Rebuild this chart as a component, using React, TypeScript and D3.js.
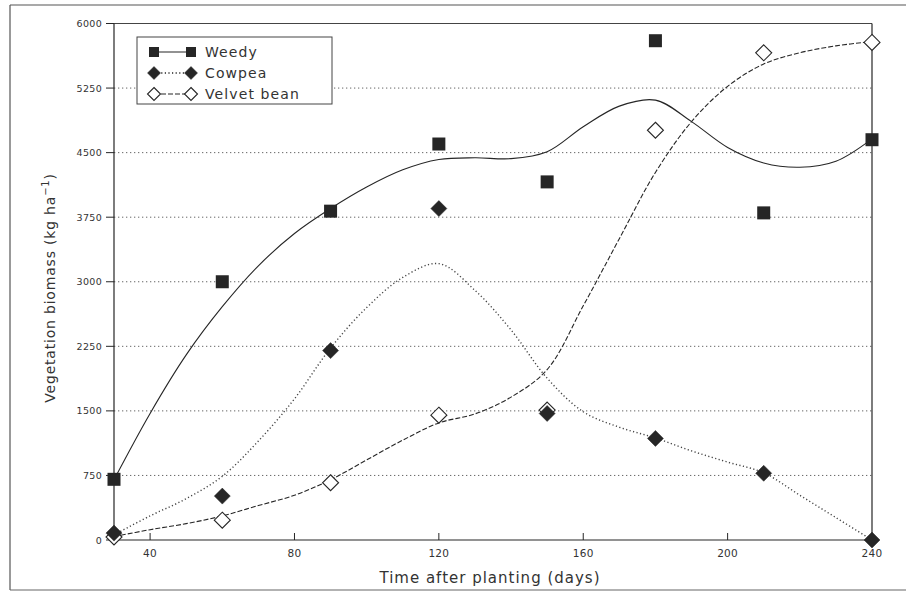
import React from "react";
import * as d3 from "d3";

// Observed data (days after planting)
const days = [30, 60, 90, 120, 150, 180, 210, 240];
const weedy = [705, 3000, 3820, 4600, 4160, 5800, 3800, 4650];
const cowpea = [80, 510, 2200, 3850, 1470, 1180, 775, 0];
const velvet = [35, 230, 665, 1450, 1510, 4760, 5660, 5780];

// Fitted curves
const fitDays = [30, 40, 50, 60, 70, 80, 90, 100, 110, 120, 130, 140, 150, 160, 170, 180, 190, 200, 210, 220, 230, 240];
const weedyFit = [700, 1470, 2150, 2710, 3185, 3560, 3850, 4100, 4300, 4420, 4440, 4430, 4510, 4800, 5040, 5110, 4860, 4560, 4380, 4330, 4400, 4660];
const cowpeaFit = [60, 280, 480, 740, 1150, 1640, 2230, 2700, 3050, 3210, 2900, 2440, 1880, 1490, 1310, 1185, 1035, 905, 780, 520, 260, 0];
const velvetFit = [40, 120, 190, 280, 400, 520, 700, 930, 1160, 1360, 1465, 1660, 1980, 2720, 3500, 4270, 4860, 5270, 5530, 5660, 5740, 5790];

const yTicks = [0, 750, 1500, 2250, 3000, 3750, 4500, 5250, 6000];
const xTicks = [40, 80, 120, 160, 200, 240];
const seriesNames = ["Weedy", "Cowpea", "Velvet bean"];

const W = 906;
const H = 595;
const FONT = "'DejaVu Sans', Verdana, sans-serif";
const INK = "#262626";

export default function App() {
  const x = d3.scaleLinear().domain([30, 240]).range([114, 872]);
  const y = d3.scaleLinear().domain([0, 6000]).range([540, 23.5]);

  const line = d3
    .line<number>()
    .x((_, i) => x(fitDays[i]))
    .y((d) => y(d))
    .curve(d3.curveCatmullRom.alpha(0.5));

  const sq = (cx: number, cy: number, s: number, key: string) => (
    <rect key={key} x={cx - s / 2} y={cy - s / 2} width={s} height={s} fill={INK} />
  );
  const dia = (cx: number, cy: number, r: number, filled: boolean, key: string) => (
    <path
      key={key}
      d={`M${cx},${cy - r}L${cx + r},${cy}L${cx},${cy + r}L${cx - r},${cy}Z`}
      fill={filled ? INK : "white"}
      stroke={INK}
      strokeWidth={filled ? 0.5 : 1.1}
    />
  );

  const x0 = x.range()[0];
  const x1 = x.range()[1];
  const yb = y(0);
  const yt = y(6000);

  const legendX = 137;
  const legendY = 37;
  const legendRows = [52, 73, 94];
  const styles = [
    { dash: undefined, w: 1.1 },
    { dash: "1.2 2.4", w: 1.4 },
    { dash: "5 2", w: 1.1 },
  ];

  return (
    <svg
      width={W}
      height={H}
      style={{ position: "absolute", left: 0, top: 0, background: "white" }}
      fontFamily={FONT}
    >
      {/* outer frame */}
      <line x1={10} y1={5} x2={W} y2={5} stroke="#555" strokeWidth={1.2} />
      <line x1={10} y1={5} x2={10} y2={590} stroke="#555" strokeWidth={1.2} />
      <line x1={10} y1={590} x2={W} y2={590} stroke="#666" strokeWidth={1.2} />

      {/* grid lines */}
      {yTicks
        .filter((t) => t > 0 && t < 6000)
        .map((t) => (
          <line
            key={"g" + t}
            x1={x0}
            x2={x1}
            y1={y(t)}
            y2={y(t)}
            stroke="#666"
            strokeWidth={1}
            strokeDasharray="1.3 2.7"
          />
        ))}

      {/* plot box */}
      <line x1={x0} y1={yt} x2={x1} y2={yt} stroke="#444" strokeWidth={1} />
      <line x1={x0} y1={yt} x2={x0} y2={yb} stroke={INK} strokeWidth={1.2} />
      <line x1={x1} y1={yt} x2={x1} y2={yb} stroke={INK} strokeWidth={1.2} />
      <line x1={x0} y1={yb} x2={x1} y2={yb} stroke={INK} strokeWidth={1.2} />

      {/* y ticks */}
      {yTicks.map((t) => (
        <g key={"yt" + t}>
          <line x1={x0 - 8} x2={x0} y1={y(t)} y2={y(t)} stroke={INK} strokeWidth={1} />
          <text
            x={x0 - 12}
            y={y(t)}
            textAnchor="end"
            dominantBaseline="central"
            fontSize={9.5}
            fill="#333"
            letterSpacing={0.3}
          >
            {t}
          </text>
        </g>
      ))}

      {/* x ticks */}
      {xTicks.map((t) => (
        <g key={"xt" + t}>
          <line x1={x(t)} x2={x(t)} y1={yb} y2={yb - 7} stroke={INK} strokeWidth={1} />
          <text x={x(t)} y={yb + 17} textAnchor="middle" fontSize={10.5} fill="#333" letterSpacing={0.3}>
            {t}
          </text>
        </g>
      ))}

      {/* axis titles */}
      <text x={490} y={583} textAnchor="middle" fontSize={15} fill="#333" letterSpacing={1}>
        Time after planting (days)
      </text>
      <text
        transform={`translate(55,288) rotate(-90)`}
        textAnchor="middle"
        fontSize={14}
        fill="#333"
        letterSpacing={0.8}
      >
        Vegetation biomass (kg ha
        <tspan dy={-6} fontSize={10}>
          −1
        </tspan>
        <tspan dy={6}>)</tspan>
      </text>

      {/* fitted curves */}
      <path d={line(weedyFit) || ""} fill="none" stroke={INK} strokeWidth={styles[0].w} />
      <path
        d={line(cowpeaFit) || ""}
        fill="none"
        stroke="#444"
        strokeWidth={styles[1].w}
        strokeDasharray={styles[1].dash}
      />
      <path
        d={line(velvetFit) || ""}
        fill="none"
        stroke={INK}
        strokeWidth={styles[2].w}
        strokeDasharray={styles[2].dash}
      />

      {/* markers */}
      {velvet.map((v, i) => dia(x(days[i]), y(v), 8, false, "v" + i))}
      {weedy.map((v, i) => sq(x(days[i]), y(v), 13, "w" + i))}
      {cowpea.map((v, i) => dia(x(days[i]), y(v), 8, true, "c" + i))}

      {/* legend */}
      <rect x={legendX} y={legendY} width={195} height={67} fill="white" stroke="#444" strokeWidth={1} />
      {seriesNames.map((name, i) => {
        const cy = legendRows[i];
        const xa = 154;
        const xb = 191;
        return (
          <g key={"lg" + i}>
            <line
              x1={xa}
              x2={xb}
              y1={cy}
              y2={cy}
              stroke={INK}
              strokeWidth={styles[i].w}
              strokeDasharray={styles[i].dash}
            />
            {i === 0 && [sq(xa, cy, 10, "a"), sq(xb, cy, 10, "b")]}
            {i === 1 && [dia(xa, cy, 6.5, true, "a"), dia(xb, cy, 6.5, true, "b")]}
            {i === 2 && [dia(xa, cy, 6.5, false, "a"), dia(xb, cy, 6.5, false, "b")]}
            <text x={205} y={cy} dominantBaseline="central" fontSize={14} fill="#333" letterSpacing={1.1}>
              {name}
            </text>
          </g>
        );
      })}
    </svg>
  );
}
